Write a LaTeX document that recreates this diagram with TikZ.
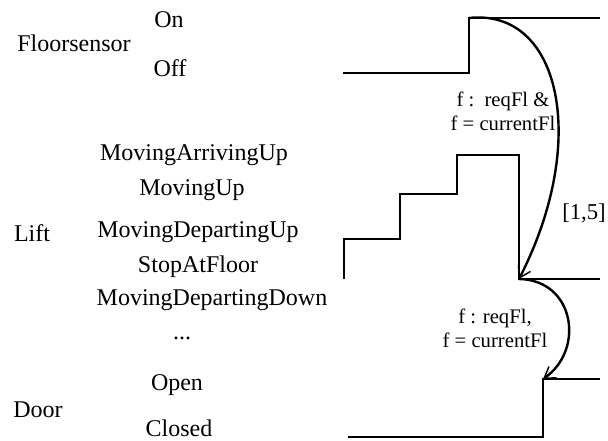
\documentclass[tikz,border=0pt]{standalone}
\usepackage{fontspec}
\setmainfont{Liberation Serif}
\usetikzlibrary{arrows.meta}
\tikzset{
  state/.style={font=\fontsize{18}{20}\selectfont,inner sep=0pt},
  guard/.style={font=\fontsize{15.5}{18}\selectfont,align=center,inner sep=0pt},
  signal/.style={draw=black,line width=1.1pt},
  trigger/.style={-{Straight Barb[length=2.8mm,width=3.6mm,line width=1.1pt]},draw=black,line width=1.8pt}
}

\begin{document}
\begin{tikzpicture}[x=0.75pt,y=-0.75pt]
  \useasboundingbox (0,0) rectangle (608,440);
  % component names
  \node[state] (fs) at (74,43) {Floorsensor};
  \node[state] (lift) at (32,233) {Lift};
  \node[state] (door) at (38,410) {Door};
  % state values
  \node[state] (on) at (169,20) {On};
  \node[state] (off) at (170,68) {Off};
  \node[state] (mau) at (194,155) {MovingArrivingUp};
  \node[state] (mu) at (192,190) {MovingUp};
  \node[state] (mdu) at (198,232) {MovingDepartingUp};
  \node[state] (saf) at (198,267) {StopAtFloor};
  \node[state] (mdd) at (212,300) {MovingDepartingDown};
  \node[state] (etc) at (182,338) {...};
  \node[state] (open) at (177,385) {Open};
  \node[state] (closed) at (179,428) {Closed};

  % signal corners
  \coordinate (fs0) at (343,73);
  \coordinate (fs1) at (469,73);
  \coordinate (fs2) at (469,18);
  \coordinate (fs3) at (600,18);
  \coordinate (l0) at (344,279);
  \coordinate (l1) at (344,239);
  \coordinate (l2) at (400,239);
  \coordinate (l3) at (400,194);
  \coordinate (l4) at (457,194);
  \coordinate (l5) at (457,155);
  \coordinate (l6) at (519,155);
  \coordinate (l7) at (519,279);
  \coordinate (l8) at (600,279);
  \coordinate (d0) at (348,437);
  \coordinate (d1) at (543,437);
  \coordinate (d2) at (543,379);
  \coordinate (d3) at (600,379);

  \draw[signal] (fs0) -- (fs1) -- (fs2) -- (fs3);
  \draw[signal] (l0) -- (l1) -- (l2) -- (l3) -- (l4) -- (l5) -- (l6) -- (l7) -- (l8);
  \draw[signal] (d0) -- (d1) -- (d2) -- (d3);

  \draw[trigger] (fs2) .. controls (560,8) and (590,140) .. (l7);
  \draw[trigger] (l7) .. controls (575,280) and (585,350) .. (d2);

  \node[guard] (g1) at (503,111) {f :\ \ reqFl \&\\f = currentFl};
  \node[guard] (g2) at (495,328) {f : reqFl,\\f = currentFl};
  \node[state,font=\fontsize{17}{20}\selectfont] (dur) at (584,213) {[1,5]};
\end{tikzpicture}
\end{document}
